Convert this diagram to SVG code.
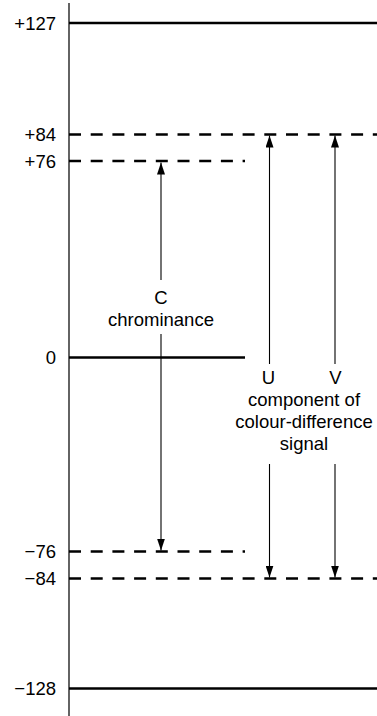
<svg xmlns="http://www.w3.org/2000/svg" width="377" height="716" viewBox="0 0 377 716">
<defs>
<style>
text{font-family:"Liberation Sans",Arial,sans-serif;font-size:18.5px;fill:#000}
.lbl{text-anchor:end}
.mid{text-anchor:middle}
.solid{stroke:#000;stroke-width:2.6;fill:none}
.dash{stroke:#000;stroke-width:2.6;fill:none;stroke-dasharray:12 9.7}
.axis{stroke:#222;stroke-width:1.4;fill:none}
.arr{stroke:#000;stroke-width:1.1;fill:none}
</style>
<marker id="ah" viewBox="0 0 12 8" refX="12" refY="4" markerWidth="12" markerHeight="8" markerUnits="userSpaceOnUse" orient="auto">
<path d="M0,0 L12,4 L0,8 z" fill="#000"/>
</marker>
</defs>
<g id="axis">
<line class="axis" x1="69" y1="3" x2="69" y2="716"/>
</g>
<g id="levels">
<g id="l127"><line class="solid" x1="69" y1="23" x2="377" y2="23"/><text class="lbl" x="56" y="29.5">+127</text></g>
<g id="l84"><line class="dash" x1="69" y1="134.5" x2="377" y2="134.5"/><text class="lbl" x="56" y="141">+84</text></g>
<g id="l76"><line class="dash" x1="69" y1="161" x2="245" y2="161"/><text class="lbl" x="56" y="167.5">+76</text></g>
<g id="l0"><line class="solid" x1="69" y1="357.5" x2="245" y2="357.5"/><text class="lbl" x="56" y="364">0</text></g>
<g id="lm76"><line class="dash" x1="69" y1="551.5" x2="245" y2="551.5"/><text class="lbl" x="56" y="558">−76</text></g>
<g id="lm84"><line class="dash" x1="69" y1="578.5" x2="377" y2="578.5"/><text class="lbl" x="56" y="585">−84</text></g>
<g id="lm128"><line class="solid" x1="69" y1="688.5" x2="377" y2="688.5"/><text class="lbl" x="56" y="695">−128</text></g>
</g>
<g id="connectors">
<line class="arr" x1="161" y1="280" x2="161" y2="162.5" marker-end="url(#ah)"/>
<line class="arr" x1="161" y1="334" x2="161" y2="550.5" marker-end="url(#ah)"/>
<line class="arr" x1="269.5" y1="364" x2="269.5" y2="135.5" marker-end="url(#ah)"/>
<line class="arr" x1="269.5" y1="464" x2="269.5" y2="577.5" marker-end="url(#ah)"/>
<line class="arr" x1="335" y1="364" x2="335" y2="135.5" marker-end="url(#ah)"/>
<line class="arr" x1="335" y1="464" x2="335" y2="577.5" marker-end="url(#ah)"/>
</g>
<g id="labelC">
<text class="mid" x="161" y="304">C</text>
<text class="mid" x="161" y="326">chrominance</text>
</g>
<g id="labelUV">
<text class="mid" x="268.5" y="384">U</text>
<text class="mid" x="335.5" y="384">V</text>
<text class="mid" x="304" y="406">component of</text>
<text class="mid" x="304" y="428">colour-difference</text>
<text class="mid" x="304" y="450">signal</text>
</g>
</svg>
